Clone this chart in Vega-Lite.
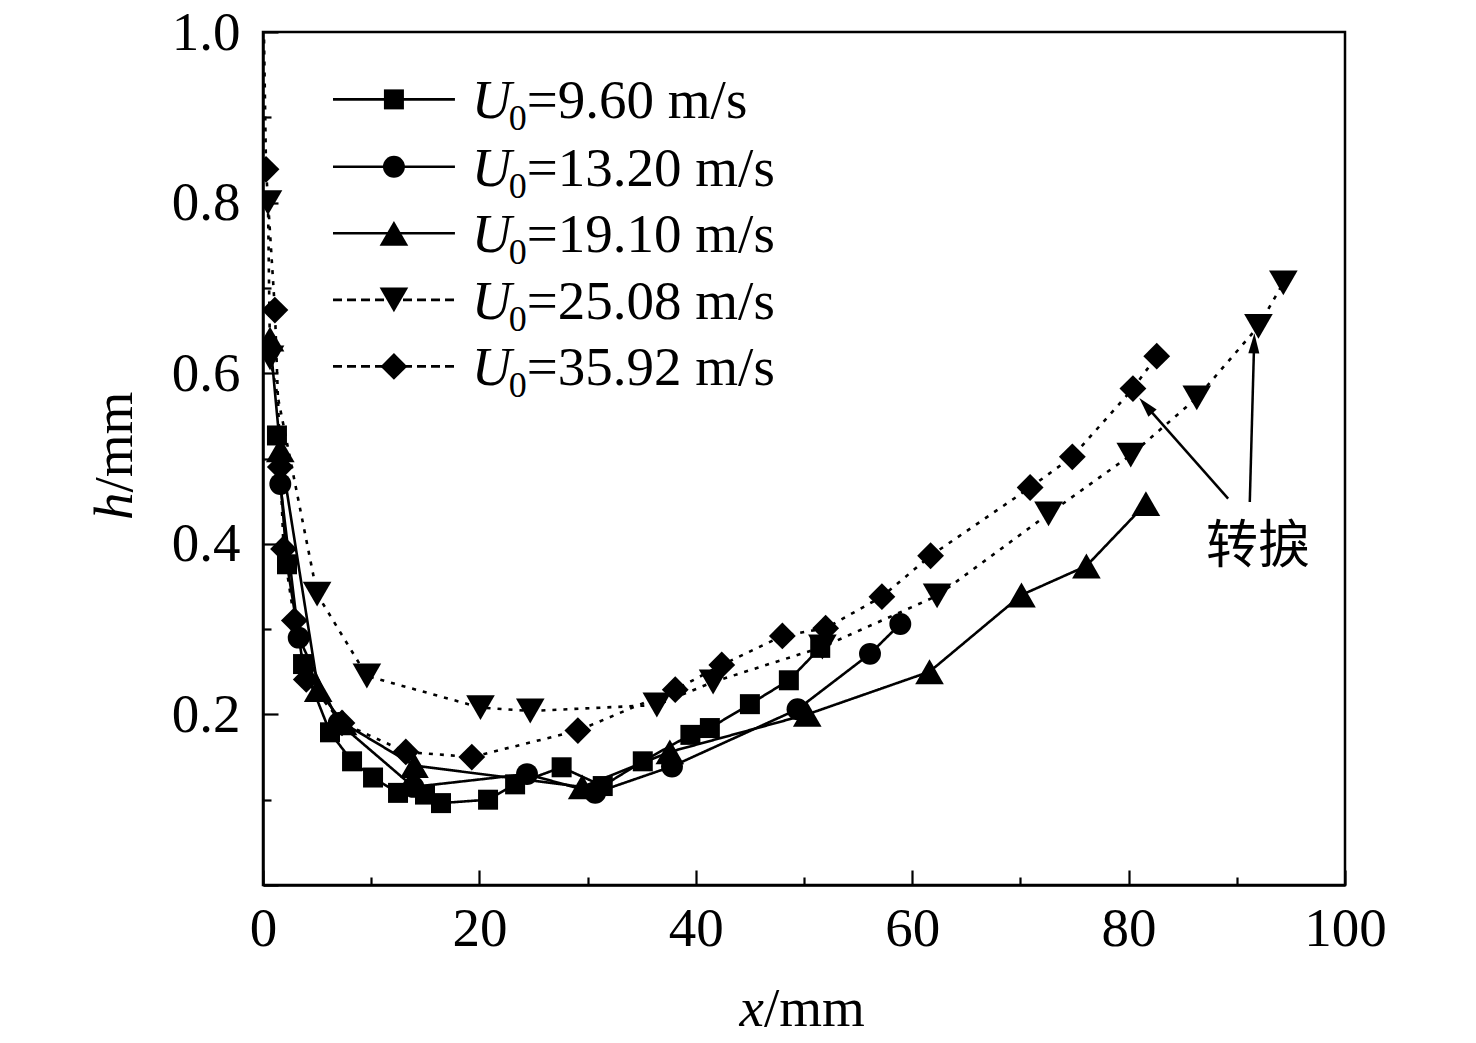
{
  "$schema": "https://vega.github.io/schema/vega-lite/v6.json",
  "width": 1082,
  "height": 853,
  "autosize": "none",
  "padding": {"left": 263, "top": 32, "right": 131, "bottom": 158},
  "background": "white",
  "config": {
    "view": {"stroke": "black", "strokeWidth": 2.5},
    "font": "Liberation Serif"
  },
  "datasets": {
    "profiles": [
      {"s": "9.60", "x": 1.29, "h": 0.527},
      {"s": "9.60", "x": 2.22, "h": 0.376},
      {"s": "9.60", "x": 3.70, "h": 0.259},
      {"s": "9.60", "x": 6.19, "h": 0.179},
      {"s": "9.60", "x": 8.23, "h": 0.145},
      {"s": "9.60", "x": 10.17, "h": 0.126},
      {"s": "9.60", "x": 12.48, "h": 0.108},
      {"s": "9.60", "x": 14.97, "h": 0.106},
      {"s": "9.60", "x": 16.45, "h": 0.096},
      {"s": "9.60", "x": 20.8, "h": 0.100},
      {"s": "9.60", "x": 23.3, "h": 0.118},
      {"s": "9.60", "x": 27.6, "h": 0.138},
      {"s": "9.60", "x": 31.4, "h": 0.116},
      {"s": "9.60", "x": 35.1, "h": 0.145},
      {"s": "9.60", "x": 39.5, "h": 0.176},
      {"s": "9.60", "x": 41.3, "h": 0.184},
      {"s": "9.60", "x": 45.0, "h": 0.212},
      {"s": "9.60", "x": 48.6, "h": 0.240},
      {"s": "9.60", "x": 51.5, "h": 0.278},
      {"s": "13.20", "x": 1.6, "h": 0.470},
      {"s": "13.20", "x": 3.3, "h": 0.290},
      {"s": "13.20", "x": 7.0, "h": 0.190},
      {"s": "13.20", "x": 13.9, "h": 0.115},
      {"s": "13.20", "x": 24.4, "h": 0.130},
      {"s": "13.20", "x": 30.7, "h": 0.108},
      {"s": "13.20", "x": 37.8, "h": 0.139},
      {"s": "13.20", "x": 49.4, "h": 0.206},
      {"s": "13.20", "x": 56.1, "h": 0.271},
      {"s": "13.20", "x": 58.9, "h": 0.306},
      {"s": "19.10", "x": 0.65, "h": 0.640},
      {"s": "19.10", "x": 1.6, "h": 0.510},
      {"s": "19.10", "x": 5.1, "h": 0.229},
      {"s": "19.10", "x": 7.4, "h": 0.190},
      {"s": "19.10", "x": 14.0, "h": 0.140},
      {"s": "19.10", "x": 29.5, "h": 0.115},
      {"s": "19.10", "x": 37.6, "h": 0.156},
      {"s": "19.10", "x": 50.3, "h": 0.200},
      {"s": "19.10", "x": 61.6, "h": 0.250},
      {"s": "19.10", "x": 70.1, "h": 0.340},
      {"s": "19.10", "x": 76.1, "h": 0.374},
      {"s": "19.10", "x": 81.6, "h": 0.447},
      {"s": "25.08", "x": 0.46, "h": 0.800},
      {"s": "25.08", "x": 0.65, "h": 0.618},
      {"s": "25.08", "x": 5.0, "h": 0.341},
      {"s": "25.08", "x": 9.6, "h": 0.245},
      {"s": "25.08", "x": 20.1, "h": 0.208},
      {"s": "25.08", "x": 24.7, "h": 0.204},
      {"s": "25.08", "x": 36.4, "h": 0.211},
      {"s": "25.08", "x": 41.6, "h": 0.238},
      {"s": "25.08", "x": 51.7, "h": 0.279},
      {"s": "25.08", "x": 62.3, "h": 0.339},
      {"s": "25.08", "x": 72.6, "h": 0.435},
      {"s": "25.08", "x": 80.2, "h": 0.504},
      {"s": "25.08", "x": 86.3, "h": 0.571},
      {"s": "25.08", "x": 92.0, "h": 0.655},
      {"s": "25.08", "x": 94.3, "h": 0.706},
      {"s": "35.92", "x": 0.05, "h": 1.03},
      {"s": "35.92", "x": 0.28, "h": 0.839},
      {"s": "35.92", "x": 1.1, "h": 0.674},
      {"s": "35.92", "x": 1.6, "h": 0.490},
      {"s": "35.92", "x": 1.9, "h": 0.394},
      {"s": "35.92", "x": 2.9, "h": 0.310},
      {"s": "35.92", "x": 4.0, "h": 0.241},
      {"s": "35.92", "x": 7.3, "h": 0.190},
      {"s": "35.92", "x": 13.2, "h": 0.156},
      {"s": "35.92", "x": 19.3, "h": 0.150},
      {"s": "35.92", "x": 29.1, "h": 0.181},
      {"s": "35.92", "x": 38.1, "h": 0.229},
      {"s": "35.92", "x": 42.4, "h": 0.258},
      {"s": "35.92", "x": 48.0, "h": 0.292},
      {"s": "35.92", "x": 52.0, "h": 0.301},
      {"s": "35.92", "x": 57.2, "h": 0.338},
      {"s": "35.92", "x": 61.7, "h": 0.386},
      {"s": "35.92", "x": 70.9, "h": 0.466},
      {"s": "35.92", "x": 74.8, "h": 0.502},
      {"s": "35.92", "x": 80.4, "h": 0.582},
      {"s": "35.92", "x": 82.6, "h": 0.620}
    ],
    "legend": [
      {"s": "9.60", "label": "=9.60 m/s", "h": 0.921},
      {"s": "13.20", "label": "=13.20 m/s", "h": 0.842},
      {"s": "19.10", "label": "=19.10 m/s", "h": 0.764},
      {"s": "25.08", "label": "=25.08 m/s", "h": 0.686},
      {"s": "35.92", "label": "=35.92 m/s", "h": 0.608}
    ],
    "arrows": [
      {"x": 89.2, "h": 0.453, "x2": 81.6, "h2": 0.562},
      {"x": 91.2, "h": 0.449, "x2": 91.6, "h2": 0.635}
    ],
    "note": [
      {"text": "转捩", "x": 91.96, "h": 0.396}
    ],
    "one": [{}]
  },
  "resolve": {"scale": {"strokeDash": "independent"}},
  "layer": [
    {
      "data": {"name": "profiles"},
      "mark": {"type": "line", "color": "black", "strokeWidth": 2.6, "clip": true},
      "encoding": {
        "x": {
          "field": "x", "type": "quantitative",
          "scale": {"domain": [0, 100], "nice": false, "zero": false},
          "axis": {
            "title": null,
            "values": [0, 10, 20, 30, 40, 50, 60, 70, 80, 90, 100],
            "labelExpr": "datum.value % 20 === 0 ? datum.label : ''",
            "grid": false,
            "domainColor": "black", "domainWidth": 2.5,
            "tickColor": "black", "tickWidth": 2.2,
            "tickSize": {"condition": {"test": "datum.value % 20 === 0", "value": -15}, "value": -8},
            "labelFont": "Liberation Serif", "labelFontSize": 55, "labelColor": "black",
            "labelPadding": 32, "labelFlush": false, "labelOverlap": false
          }
        },
        "y": {
          "field": "h", "type": "quantitative",
          "scale": {"domain": [0, 1], "nice": false, "zero": false},
          "axis": {
            "title": null,
            "values": [0, 0.1, 0.2, 0.3, 0.4, 0.5, 0.6, 0.7, 0.8, 0.9, 1.0],
            "labelExpr": "datum.value > 0.05 && round(datum.value * 10) % 2 === 0 ? format(datum.value, '.1f') : ''",
            "grid": false,
            "domainColor": "black", "domainWidth": 2.5,
            "tickColor": "black", "tickWidth": 2.2,
            "tickSize": {"condition": {"test": "round(datum.value * 10) % 2 === 0", "value": -15}, "value": -8},
            "labelFont": "Liberation Serif", "labelFontSize": 55, "labelColor": "black",
            "labelPadding": 38, "labelFlush": false, "labelOverlap": false
          }
        },
        "strokeDash": {
          "field": "s", "type": "nominal", "legend": null,
          "scale": {"domain": ["9.60", "13.20", "19.10", "25.08", "35.92"], "range": [[1, 0], [1, 0], [1, 0], [4, 7], [4, 7]]}
        }
      }
    },
    {
      "data": {"name": "profiles"},
      "mark": {"type": "point", "filled": true, "color": "black", "opacity": 1, "clip": true},
      "encoding": {
        "x": {"field": "x", "type": "quantitative", "title": null},
        "y": {"field": "h", "type": "quantitative", "title": null},
        "shape": {
          "field": "s", "type": "nominal", "legend": null,
          "scale": {"domain": ["9.60", "13.20", "19.10", "25.08", "35.92"], "range": ["square", "circle", "triangle-up", "triangle-down", "diamond"]}
        },
        "size": {
          "field": "s", "type": "nominal", "legend": null,
          "scale": {"type": "ordinal", "domain": ["9.60", "13.20", "19.10", "25.08", "35.92"], "range": [400, 480, 820, 820, 720]}
        }
      }
    },
    {
      "data": {"name": "legend"},
      "mark": {"type": "rule", "color": "black", "strokeWidth": 2.6},
      "encoding": {
        "x": {"datum": 6.47, "type": "quantitative"},
        "x2": {"datum": 17.74},
        "y": {"field": "h", "type": "quantitative", "title": null},
        "strokeDash": {
          "field": "s", "type": "nominal", "legend": null,
          "scale": {"domain": ["9.60", "13.20", "19.10", "25.08", "35.92"], "range": [[1, 0], [1, 0], [1, 0], [9, 5], [9, 5]]}
        }
      }
    },
    {
      "data": {"name": "legend"},
      "mark": {"type": "point", "filled": true, "color": "black", "opacity": 1},
      "encoding": {
        "x": {"datum": 12.1, "type": "quantitative"},
        "y": {"field": "h", "type": "quantitative", "title": null},
        "shape": {
          "field": "s", "type": "nominal", "legend": null,
          "scale": {"domain": ["9.60", "13.20", "19.10", "25.08", "35.92"], "range": ["square", "circle", "triangle-up", "triangle-down", "diamond"]}
        },
        "size": {
          "field": "s", "type": "nominal", "legend": null,
          "scale": {"type": "ordinal", "domain": ["9.60", "13.20", "19.10", "25.08", "35.92"], "range": [400, 480, 820, 820, 720]}
        }
      }
    },
    {
      "data": {"name": "legend"},
      "mark": {"type": "text", "font": "Liberation Serif", "fontSize": 55, "fontStyle": "italic", "align": "left", "baseline": "alphabetic", "dy": 19, "color": "black"},
      "encoding": {
        "x": {"datum": 19.3, "type": "quantitative"},
        "y": {"field": "h", "type": "quantitative", "title": null},
        "text": {"value": "U"}
      }
    },
    {
      "data": {"name": "legend"},
      "mark": {"type": "text", "font": "Liberation Serif", "fontSize": 36, "align": "left", "baseline": "alphabetic", "dx": 37, "dy": 31, "color": "black"},
      "encoding": {
        "x": {"datum": 19.3, "type": "quantitative"},
        "y": {"field": "h", "type": "quantitative", "title": null},
        "text": {"value": "0"}
      }
    },
    {
      "data": {"name": "legend"},
      "mark": {"type": "text", "font": "Liberation Serif", "fontSize": 55, "align": "left", "baseline": "alphabetic", "dx": 55, "dy": 19, "color": "black"},
      "encoding": {
        "x": {"datum": 19.3, "type": "quantitative"},
        "y": {"field": "h", "type": "quantitative", "title": null},
        "text": {"field": "label"}
      }
    },
    {
      "data": {"name": "arrows"},
      "mark": {"type": "rule", "color": "black", "strokeWidth": 2.5},
      "encoding": {
        "x": {"field": "x", "type": "quantitative", "title": null},
        "y": {"field": "h", "type": "quantitative", "title": null},
        "x2": {"field": "x2"},
        "y2": {"field": "h2"}
      }
    },
    {
      "data": {"name": "arrows"},
      "transform": [
        {"calculate": "atan2((datum.x2 - datum.x) * 10.82, (datum.h2 - datum.h) * 853) * 180 / PI", "as": "angle"}
      ],
      "mark": {"type": "point", "filled": true, "color": "black", "opacity": 1, "shape": "M0,-1L-0.55,1L0.55,1Z", "size": 400},
      "encoding": {
        "x": {"field": "x2", "type": "quantitative", "title": null},
        "y": {"field": "h2", "type": "quantitative", "title": null},
        "angle": {"field": "angle", "type": "quantitative", "scale": null}
      }
    },
    {
      "data": {"name": "note"},
      "mark": {"type": "text", "font": "Noto Sans CJK SC", "fontSize": 52, "align": "center", "baseline": "middle", "color": "black"},
      "encoding": {
        "x": {"field": "x", "type": "quantitative", "title": null},
        "y": {"field": "h", "type": "quantitative", "title": null},
        "text": {"field": "text"}
      }
    },
    {
      "data": {"name": "one"},
      "mark": {"type": "text", "font": "Liberation Serif", "fontSize": 55, "fontStyle": "italic", "align": "right", "baseline": "alphabetic", "color": "black"},
      "encoding": {
        "x": {"datum": 46.3, "type": "quantitative"},
        "y": {"datum": -0.165, "type": "quantitative"},
        "text": {"value": "x"}
      }
    },
    {
      "data": {"name": "one"},
      "mark": {"type": "text", "font": "Liberation Serif", "fontSize": 55, "align": "left", "baseline": "alphabetic", "color": "black"},
      "encoding": {
        "x": {"datum": 46.3, "type": "quantitative"},
        "y": {"datum": -0.165, "type": "quantitative"},
        "text": {"value": "/mm"}
      }
    },
    {
      "data": {"name": "one"},
      "mark": {"type": "text", "font": "Liberation Serif", "fontSize": 55, "fontStyle": "italic", "align": "right", "baseline": "middle", "angle": 270, "color": "black"},
      "encoding": {
        "x": {"datum": -13.7, "type": "quantitative"},
        "y": {"datum": 0.46, "type": "quantitative"},
        "text": {"value": "h"}
      }
    },
    {
      "data": {"name": "one"},
      "mark": {"type": "text", "font": "Liberation Serif", "fontSize": 55, "align": "left", "baseline": "middle", "angle": 270, "color": "black"},
      "encoding": {
        "x": {"datum": -13.7, "type": "quantitative"},
        "y": {"datum": 0.46, "type": "quantitative"},
        "text": {"value": "/mm"}
      }
    }
  ]
}
